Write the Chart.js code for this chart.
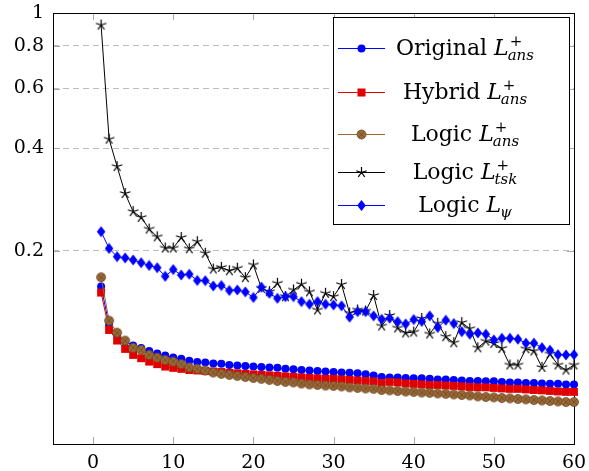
<!DOCTYPE html>
<html>
<head>
<meta charset="utf-8">
<script src="https://cdn.jsdelivr.net/npm/chart.js@4.4.1/dist/chart.umd.min.js"></script>
<style>
html, body { margin: 0; padding: 0; background: #fff; }
</style>
</head>
<body>
<canvas id="lossChart" width="589" height="471"></canvas>
<script>
const epochs = [1, 2, 3, 4, 5, 6, 7, 8, 9, 10, 11, 12, 13, 14, 15, 16, 17, 18, 19, 20,
    21, 22, 23, 24, 25, 26, 27, 28, 29, 30, 31, 32, 33, 34, 35, 36, 37, 38, 39, 40,
    41, 42, 43, 44, 45, 46, 47, 48, 49, 50, 51, 52, 53, 54, 55, 56, 57, 58, 59, 60];

const originalAns = [0.1573, 0.1213, 0.1133, 0.1085, 0.1056, 0.1038, 0.1017, 0.1000, 0.0987, 0.0973,
    0.0964, 0.0951, 0.0944, 0.0941, 0.0935, 0.0932, 0.0925, 0.0922, 0.0919, 0.0916,
    0.0913, 0.0910, 0.0907, 0.0901, 0.0898, 0.0894, 0.0891, 0.0888, 0.0885, 0.0882,
    0.0879, 0.0877, 0.0874, 0.0868, 0.0862, 0.0853, 0.0850, 0.0850, 0.0847, 0.0845,
    0.0845, 0.0842, 0.0839, 0.0839, 0.0836, 0.0833, 0.0830, 0.0830, 0.0828, 0.0828,
    0.0825, 0.0822, 0.0822, 0.0819, 0.0819, 0.0816, 0.0814, 0.0814, 0.0811, 0.0811];

const hybridAns = [0.1509, 0.1172, 0.1091, 0.1031, 0.0990, 0.0968, 0.0946, 0.0930, 0.0915, 0.0907,
    0.0901, 0.0894, 0.0891, 0.0888, 0.0885, 0.0882, 0.0877, 0.0874, 0.0871, 0.0868,
    0.0865, 0.0862, 0.0859, 0.0856, 0.0853, 0.0850, 0.0847, 0.0845, 0.0842, 0.0842,
    0.0839, 0.0836, 0.0833, 0.0830, 0.0828, 0.0819, 0.0825, 0.0822, 0.0816, 0.0814,
    0.0811, 0.0808, 0.0808, 0.0805, 0.0803, 0.0800, 0.0797, 0.0795, 0.0795, 0.0792,
    0.0789, 0.0787, 0.0787, 0.0784, 0.0781, 0.0779, 0.0776, 0.0773, 0.0771, 0.0771];

const logicAns = [0.1674, 0.1248, 0.1151, 0.1091, 0.1038, 0.1024, 0.0990, 0.0972, 0.0957, 0.0946,
    0.0930, 0.0910, 0.0901, 0.0891, 0.0879, 0.0871, 0.0865, 0.0859, 0.0853, 0.0847,
    0.0842, 0.0836, 0.0830, 0.0825, 0.0822, 0.0816, 0.0811, 0.0808, 0.0805, 0.0803,
    0.0800, 0.0795, 0.0792, 0.0789, 0.0787, 0.0781, 0.0779, 0.0776, 0.0773, 0.0771,
    0.0768, 0.0766, 0.0763, 0.0761, 0.0758, 0.0755, 0.0753, 0.0748, 0.0745, 0.0743,
    0.0740, 0.0738, 0.0735, 0.0733, 0.0730, 0.0728, 0.0725, 0.0723, 0.0720, 0.0720];

const logicTsk = [0.922, 0.426, 0.354, 0.295, 0.261, 0.251, 0.232, 0.220, 0.204, 0.204,
    0.219, 0.203, 0.213, 0.197, 0.177, 0.179, 0.175, 0.178, 0.167, 0.182,
    0.1554, 0.1519, 0.1608, 0.1468, 0.1536, 0.1597, 0.1516, 0.1342, 0.1502, 0.1468,
    0.1594, 0.1315, 0.1342, 0.1333, 0.1480, 0.1204, 0.1293, 0.1188, 0.1149, 0.1156,
    0.1267, 0.1141, 0.1227, 0.1120, 0.1075, 0.1232, 0.1182, 0.1039, 0.1087, 0.1070,
    0.1035, 0.0925, 0.0925, 0.1032, 0.1017, 0.0910, 0.0997, 0.0925, 0.0894, 0.0925];

const logicPsi = [0.2279, 0.2034, 0.1924, 0.1908, 0.1882, 0.1847, 0.1813, 0.1786, 0.1685, 0.1764,
    0.1700, 0.1709, 0.1638, 0.1636, 0.1578, 0.1583, 0.1531, 0.1536, 0.1516, 0.1460,
    0.1565, 0.1502, 0.1452, 0.1468, 0.1468, 0.1420, 0.1395, 0.1420, 0.1395, 0.1388,
    0.1380, 0.1278, 0.1327, 0.1327, 0.1289, 0.1260, 0.1269, 0.1240, 0.1221, 0.1258,
    0.1242, 0.1289, 0.1192, 0.1252, 0.1224, 0.1159, 0.1139, 0.1149, 0.1139, 0.1096,
    0.1108, 0.1108, 0.1101, 0.1072, 0.1072, 0.1040, 0.1022, 0.0992, 0.0990, 0.0992];

const xTicks = [0, 10, 20, 30, 40, 50, 60];
const yTicks = [0.2, 0.4, 0.6, 0.8, 1];

const BLUE = '#0000ff';
const RED = '#e00000';
const BROWN = '#9a6936';
const BROWN_EDGE = '#6e4a26';

// marker shapes (pgfplots style: star, diamond, otimes)
function drawStar(ctx, cx, cy) {
    ctx.save();
    ctx.strokeStyle = '#000';
    ctx.lineWidth = 1.2;
    ctx.beginPath();
    for (let k = 0; k < 5; k++) {
        const a = -Math.PI / 2 + k * 2 * Math.PI / 5;
        ctx.moveTo(cx, cy);
        ctx.lineTo(cx + 5.5 * Math.cos(a), cy + 5.5 * Math.sin(a));
    }
    ctx.stroke();
    ctx.restore();
}
function drawDiamond(ctx, cx, cy) {
    ctx.save();
    ctx.fillStyle = BLUE;
    ctx.beginPath();
    ctx.moveTo(cx, cy - 5.4);
    ctx.lineTo(cx + 4.3, cy);
    ctx.lineTo(cx, cy + 5.4);
    ctx.lineTo(cx - 4.3, cy);
    ctx.closePath();
    ctx.fill();
    ctx.restore();
}
function drawOtimes(ctx, cx, cy) {
    const r = 4.5, d = r * Math.SQRT1_2;
    ctx.save();
    ctx.fillStyle = BROWN;
    ctx.strokeStyle = BROWN_EDGE;
    ctx.lineWidth = 0.8;
    ctx.beginPath();
    ctx.arc(cx, cy, r, 0, Math.PI * 2);
    ctx.fill();
    ctx.stroke();
    ctx.beginPath();
    ctx.moveTo(cx - d, cy - d); ctx.lineTo(cx + d, cy + d);
    ctx.moveTo(cx + d, cy - d); ctx.lineTo(cx - d, cy + d);
    ctx.stroke();
    ctx.restore();
}
function drawCircle(ctx, cx, cy) {
    ctx.save();
    ctx.fillStyle = BLUE;
    ctx.beginPath();
    ctx.arc(cx, cy, 4, 0, Math.PI * 2);
    ctx.fill();
    ctx.restore();
}
function drawSquare(ctx, cx, cy) {
    ctx.save();
    ctx.fillStyle = RED;
    ctx.fillRect(cx - 4, cy - 4, 8, 8);
    ctx.restore();
}
function markerCanvas(w, h, draw) {
    const c = document.createElement('canvas');
    c.width = w;
    c.height = h;
    draw(c.getContext('2d'), w / 2, h / 2);
    return c;
}
const starImg = markerCanvas(13, 13, drawStar);
const diamondImg = markerCanvas(10, 12, drawDiamond);
const otimesImg = markerCanvas(12, 12, drawOtimes);

const toPoints = arr => arr.map((v, i) => ({x: epochs[i], y: v}));

const legendRows = [
    {word: 'Original', sup: '+', sub: 'ans', y: 48, line: BLUE, mark: drawCircle},
    {word: 'Hybrid', sup: '+', sub: 'ans', y: 92, line: RED, mark: drawSquare},
    {word: 'Logic', sup: '+', sub: 'ans', y: 134, line: BROWN, mark: drawOtimes},
    {word: 'Logic', sup: '+', sub: 'tsk', y: 172, line: '#000', mark: drawStar},
    {word: 'Logic', sup: '', sub: 'ψ', y: 205, line: BLUE, mark: drawDiamond}
];

const axisFrame = {
    id: 'axisFrame',
    beforeDatasetsDraw(chart) {
        const {ctx, chartArea: a, scales: {x, y}} = chart;
        ctx.save();
        ctx.strokeStyle = '#a9a9a9';
        ctx.lineWidth = 1;
        ctx.beginPath();
        xTicks.forEach(v => {
            const px = Math.round(x.getPixelForValue(v)) + 0.5;
            ctx.moveTo(px, a.bottom); ctx.lineTo(px, a.bottom - 7);
            ctx.moveTo(px, a.top); ctx.lineTo(px, a.top + 7);
        });
        yTicks.forEach(v => {
            const py = Math.round(y.getPixelForValue(v)) + 0.5;
            ctx.moveTo(a.left, py); ctx.lineTo(a.left + 7, py);
            ctx.moveTo(a.right, py); ctx.lineTo(a.right - 7, py);
        });
        ctx.stroke();
        ctx.strokeStyle = '#000';
        ctx.strokeRect(Math.round(a.left) + 0.5, Math.round(a.top) + 0.5,
            Math.round(a.right - a.left), Math.round(a.bottom - a.top));
        ctx.restore();
    }
};

const mathLegend = {
    id: 'mathLegend',
    afterDraw(chart) {
        const ctx = chart.ctx;
        const box = {x: 333.5, y: 17.5, w: 236, h: 207};
        ctx.save();
        ctx.fillStyle = '#fff';
        ctx.fillRect(box.x, box.y, box.w, box.h);
        ctx.strokeStyle = '#000';
        ctx.lineWidth = 1;
        ctx.strokeRect(box.x, box.y, box.w, box.h);
        const mainFont = '22px "DejaVu Serif"';
        const mathFont = 'italic 22px "DejaVu Serif"';
        const scriptFont = 'italic 15px "DejaVu Serif"';
        const supFont = '15px "DejaVu Serif"';
        legendRows.forEach(r => {
            ctx.strokeStyle = r.line;
            ctx.lineWidth = 1;
            ctx.beginPath();
            ctx.moveTo(338, r.y + 0.5);
            ctx.lineTo(385, r.y + 0.5);
            ctx.stroke();
            r.mark(ctx, 361.5, r.y + 0.5);

            ctx.textBaseline = 'alphabetic';
            ctx.fillStyle = '#000';
            const word = r.word + ' ';
            ctx.font = mainFont; const w1 = ctx.measureText(word).width;
            ctx.font = mathFont; const w2 = ctx.measureText('L').width;
            ctx.font = supFont; const w3 = ctx.measureText(r.sup).width;
            ctx.font = scriptFont; const w4 = ctx.measureText(r.sub).width;
            const total = w1 + w2 + Math.max(w3, w4) + 1;
            let x0 = 466 - total / 2;
            const base = r.y + 7;
            ctx.font = mainFont; ctx.fillText(word, x0, base);
            x0 += w1;
            ctx.font = mathFont; ctx.fillText('L', x0, base);
            x0 += w2 + 1;
            if (r.sup) { ctx.font = supFont; ctx.fillText(r.sup, x0, base - 9); }
            ctx.font = scriptFont; ctx.fillText(r.sub, x0 - 2, base + 5);
        });
        ctx.restore();
    }
};

Chart.defaults.font.family = '"DejaVu Serif"';
Chart.defaults.color = '#000';

new Chart(document.getElementById('lossChart'), {
    type: 'line',
    data: {
        datasets: [
            {
                label: 'Original',
                data: toPoints(originalAns),
                borderColor: BLUE,
                backgroundColor: BLUE,
                borderWidth: 1,
                pointStyle: 'circle',
                pointRadius: 4,
                pointBorderWidth: 0,
                order: 5
            },
            {
                label: 'Hybrid',
                data: toPoints(hybridAns),
                borderColor: RED,
                backgroundColor: RED,
                borderWidth: 1,
                pointStyle: 'rect',
                pointRadius: 5.6,
                pointBorderWidth: 0,
                order: 4
            },
            {
                label: 'Logic ans',
                data: toPoints(logicAns),
                borderColor: BROWN,
                backgroundColor: BROWN,
                borderWidth: 1,
                pointStyle: otimesImg,
                order: 3
            },
            {
                label: 'Logic tsk',
                data: toPoints(logicTsk),
                borderColor: '#000',
                backgroundColor: '#000',
                borderWidth: 1,
                pointStyle: starImg,
                order: 2
            },
            {
                label: 'Logic psi',
                data: toPoints(logicPsi),
                borderColor: BLUE,
                backgroundColor: BLUE,
                borderWidth: 1,
                pointStyle: diamondImg,
                order: 1
            }
        ]
    },
    options: {
        responsive: false,
        animation: false,
        devicePixelRatio: 1,
        datasets: {line: {clip: false, tension: 0}},
        layout: {padding: {left: 0, right: 15, top: 13, bottom: 0}},
        plugins: {legend: {display: false}, tooltip: {enabled: false}},
        scales: {
            x: {
                type: 'linear',
                min: -5,
                max: 60,
                afterBuildTicks: s => { s.ticks = xTicks.map(v => ({value: v})); },
                afterFit: s => { s.height = 27; s.paddingLeft = 0; s.paddingRight = 0; },
                grid: {display: false, drawTicks: false},
                border: {display: false},
                ticks: {font: {size: 19}, padding: 8, maxRotation: 0}
            },
            y: {
                type: 'logarithmic',
                min: 0.0542,
                max: 1,
                afterBuildTicks: s => { s.ticks = yTicks.map(v => ({value: v})); },
                afterFit: s => { s.width = 53; s.paddingTop = 0; s.paddingBottom = 0; },
                grid: {color: '#bdbdbd', lineWidth: 1, drawTicks: false},
                border: {display: false, dash: [6, 4]},
                ticks: {font: {size: 19}, padding: 9, callback: v => String(v)}
            }
        }
    },
    plugins: [axisFrame, mathLegend]
});
</script>
</body>
</html>
